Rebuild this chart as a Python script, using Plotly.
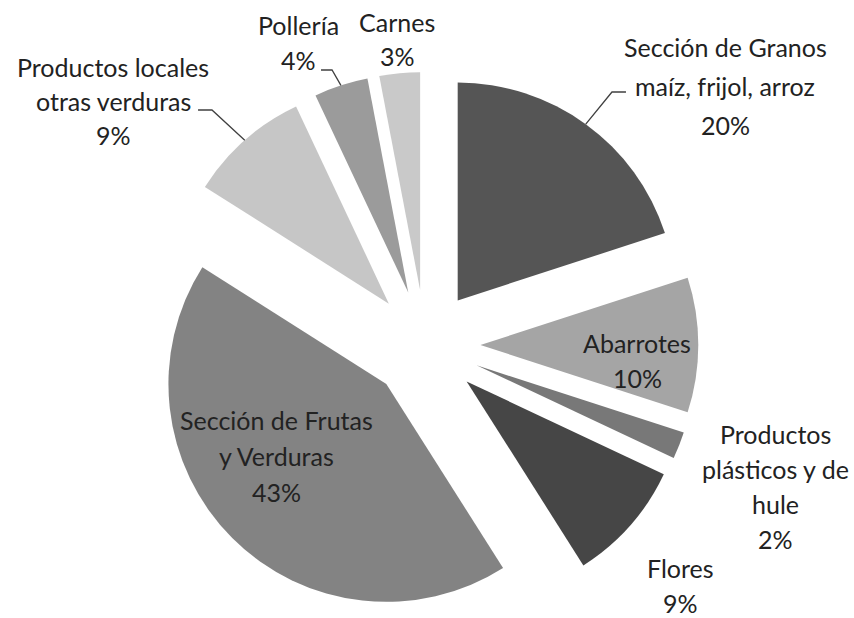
import math
import plotly.graph_objects as go

# Market sections and their share of stalls (%)
categories = [
    "Sección de Granos\nmaíz, frijol, arroz",
    "Abarrotes",
    "Productos\nplásticos y de\nhule",
    "Flores",
    "Sección de Frutas\ny Verduras",
    "Productos locales\notras verduras",
    "Pollería",
    "Carnes",
]
shares = [20, 10, 2, 9, 43, 9, 4, 3]
colors = ["#555555", "#a5a5a5", "#787878", "#464646",
          "#838383", "#c6c6c6", "#9b9b9b", "#c9c9c9"]

W, H = 854, 618
PULL = 0.253
DOM_X = [0.168, 0.828]
DOM_Y = [0.0, 0.8835]

# label placement: (center x, first-line center y, line spacing) in pixels
label_layout = [
    (725, 47, 39),
    (637, 343, 35),
    (775, 434, 35),
    (680, 568, 35),
    (276, 420, 36),
    (113, 67, 34),
    (298, 25, 35),
    (397, 22, 34),
]
# leader lines: slice index -> [text end point, elbow point] in pixels
leaders = {
    0: [(626, 92), (612, 92)],
    5: [(198, 110), (212, 110)],
    6: [(321, 70), (332, 70)],
}

TEXT_FONT = dict(family="Lato, 'Open Sans', sans-serif", size=25, color="#222222")


def px(x, y):
    return x / W, 1 - y / H


fig = go.Figure(
    go.Pie(
        labels=[c.replace("\n", " ") for c in categories],
        values=shares,
        sort=False,
        direction="clockwise",
        rotation=0,
        pull=[PULL] * len(shares),
        marker=dict(colors=colors, line=dict(width=0)),
        textinfo="none",
        hoverinfo="label+percent",
        showlegend=False,
        domain=dict(x=DOM_X, y=DOM_Y),
    )
)

# pie geometry (same rule the pie trace uses for its radius and center)
r = min(W * (DOM_X[1] - DOM_X[0]), H * (DOM_Y[1] - DOM_Y[0])) / (2 + 2 * PULL)
cx = W * (DOM_X[0] + DOM_X[1]) / 2
cy = H * (2 - DOM_Y[0] - DOM_Y[1]) / 2
total = sum(shares)

annotations = []
shapes = []
cum = 0
for i, (cat, val) in enumerate(zip(categories, shares)):
    theta = math.radians(360 * (cum + val / 2) / total)
    cum += val
    ux, uy = math.sin(theta), -math.cos(theta)
    vx, vy = cx + ux * PULL * r, cy + uy * PULL * r
    lines = cat.split("\n") + [f"{val}%"]
    lx, ly, step = label_layout[i]
    for k, line in enumerate(lines):
        x, y = px(lx, ly + k * step)
        annotations.append(dict(
            x=x, y=y, xref="paper", yref="paper", text=line,
            showarrow=False, xanchor="center", yanchor="middle", font=TEXT_FONT,
        ))
    if i in leaders:
        (tx, ty), (ex, ey) = leaders[i]
        ax, ay = vx + ux * r, vy + uy * r
        pts = [px(tx, ty), px(ex, ey), px(ax, ay)]
        path = "M {:.4f},{:.4f} L {:.4f},{:.4f} L {:.4f},{:.4f}".format(
            *pts[0], *pts[1], *pts[2])
        shapes.append(dict(type="path", path=path, xref="paper", yref="paper",
                           line=dict(color="#404040", width=1.3)))

fig.update_layout(
    width=W,
    height=H,
    margin=dict(l=0, r=0, t=0, b=0),
    paper_bgcolor="white",
    plot_bgcolor="white",
    annotations=annotations,
    shapes=shapes,
)

fig.write_html("out.html")
